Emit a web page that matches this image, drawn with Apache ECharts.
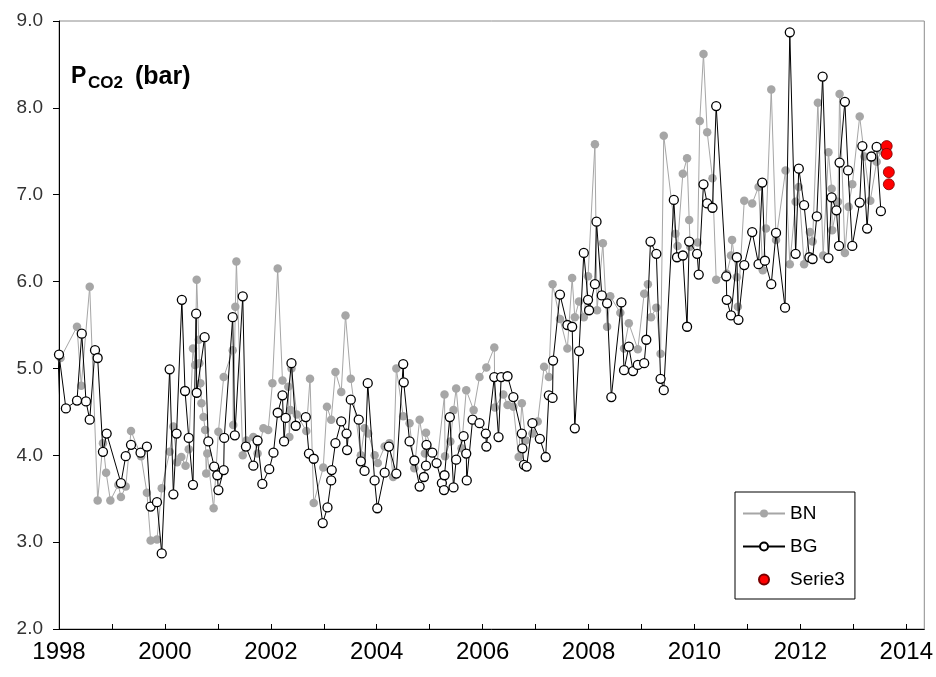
<!DOCTYPE html>
<html>
<head>
<meta charset="utf-8">
<script src="https://cdn.jsdelivr.net/npm/echarts@6/dist/echarts.min.js"></script>
<style>html,body{margin:0;padding:0;background:#fff;overflow:hidden}#c{width:936px;height:677px}</style>
</head>
<body>
<div id="c"></div>
<script>
// ---- data (decimal years, bar) ----
const xTickLabels = ['1998','2000','2002','2004','2006','2008','2010','2012','2014'];
const yTickLabels = ['2.0','3.0','4.0','5.0','6.0','7.0','8.0','9.0'];

const bnYear = [1998.03,1998.34,1998.42,1998.58,1998.73,1998.83,1998.89,1998.97,1999.12,1999.17,1999.26,1999.36,1999.55,1999.66,1999.73,1999.85,1999.94,
2000.09,2000.16,2000.23,2000.31,2000.39,2000.45,2000.53,2000.57,2000.60,2000.64,2000.65,2000.67,2000.69,2000.73,2000.76,2000.78,2000.80,2000.92,
2001.01,2001.11,2001.28,2001.29,2001.33,2001.35,2001.47,2001.54,2001.67,2001.75,2001.86,2001.95,
2002.03,2002.13,2002.22,2002.33,2002.35,2002.37,2002.39,2002.49,2002.67,2002.74,2002.81,2002.99,
2003.06,2003.14,2003.22,2003.33,2003.41,2003.51,2003.70,2003.77,2003.84,2003.96,
2004.02,2004.15,2004.24,2004.31,2004.37,2004.50,2004.62,2004.71,2004.81,2004.91,2004.93,
2005.14,2005.28,2005.29,2005.39,2005.45,2005.50,2005.60,2005.69,2005.83,2005.94,
2006.07,2006.22,2006.23,2006.39,2006.47,2006.58,2006.68,2006.74,2006.81,2006.94,
2007.04,2007.16,2007.25,2007.32,2007.46,2007.60,2007.69,2007.74,2007.82,2007.91,2007.99,
2008.12,2008.16,2008.27,2008.35,2008.41,2008.60,2008.67,2008.76,2008.93,
2009.05,2009.12,2009.18,2009.28,2009.36,2009.42,2009.64,2009.68,2009.78,2009.86,2009.90,2009.92,
2010.06,2010.10,2010.17,2010.24,2010.34,2010.41,2010.61,2010.69,2010.71,2010.80,2010.82,2010.94,
2011.09,2011.21,2011.29,2011.35,2011.45,2011.54,2011.72,2011.80,2011.91,2011.97,
2012.07,2012.18,2012.23,2012.33,2012.43,2012.53,2012.59,2012.60,2012.71,2012.74,2012.84,2012.91,2012.98,
2013.12,2013.21,2013.32,2013.44,2013.53];
const bnValue = [5.12,5.48,4.80,5.94,3.48,4.14,3.80,3.48,3.66,3.52,3.64,4.28,3.99,3.57,3.02,3.03,3.62,
4.04,4.33,3.92,3.98,3.88,4.07,5.23,5.04,6.02,5.33,5.06,4.83,4.60,4.44,4.29,3.79,4.02,3.39,
4.27,4.90,5.21,4.35,5.71,6.23,4.00,4.17,4.21,4.02,4.31,4.29,
4.83,6.15,4.86,4.79,4.21,4.52,5.00,4.47,4.28,4.88,3.45,3.86,
4.56,4.41,4.96,4.73,5.61,4.88,4.00,4.31,4.25,4.00,
3.91,4.10,4.14,3.75,5.00,4.45,4.37,3.85,4.41,4.02,4.26,
3.91,4.70,3.99,4.16,4.52,4.77,4.08,4.75,4.52,4.90,
5.01,5.24,4.55,4.70,4.58,4.56,3.98,4.60,4.17,4.25,
4.39,5.02,4.90,5.97,5.57,5.23,6.04,5.59,5.77,5.59,6.06,
7.58,5.67,6.44,5.48,5.83,5.64,5.23,5.52,5.22,
5.86,5.97,5.59,5.70,5.17,7.68,6.55,6.41,7.24,7.42,6.71,6.40,
6.45,7.85,8.62,7.72,7.19,6.02,6.09,6.30,6.48,6.05,5.71,6.93,
6.90,7.09,6.13,6.61,8.21,6.48,7.28,6.20,6.92,7.09,
6.20,6.57,6.46,8.06,6.30,7.49,7.07,6.59,6.92,8.16,6.33,6.86,7.12,
7.90,7.44,6.93,7.38,7.51];

const bgYear = [1997.94,1998.00,1998.13,1998.34,1998.43,1998.51,1998.58,1998.68,1998.73,1998.83,1998.90,1999.17,1999.26,1999.36,1999.54,1999.66,1999.73,1999.85,1999.94,
2000.09,2000.16,2000.22,2000.32,2000.38,2000.45,2000.53,2000.59,2000.60,2000.75,2000.82,2000.93,2000.99,
2001.01,2001.11,2001.12,2001.28,2001.32,2001.47,2001.53,2001.67,2001.75,2001.84,2001.97,
2002.05,2002.13,2002.22,2002.25,2002.28,2002.39,2002.47,2002.66,2002.72,2002.81,2002.98,
2003.07,2003.14,2003.15,2003.22,2003.33,2003.43,2003.44,2003.51,2003.66,2003.70,2003.77,2003.83,2003.96,
2004.01,2004.15,2004.23,2004.37,2004.50,2004.51,2004.62,2004.71,2004.81,2004.89,2004.93,2004.94,
2005.05,2005.13,2005.23,2005.27,2005.28,2005.38,2005.45,2005.50,2005.64,2005.69,2005.70,2005.81,2005.94,
2006.06,2006.07,2006.22,2006.30,2006.35,2006.47,2006.58,2006.74,2006.75,2006.78,2006.83,2006.94,
2007.08,2007.19,2007.25,2007.32,2007.33,2007.46,2007.60,2007.69,2007.74,2007.82,2007.91,2007.99,
2008.01,2008.12,2008.15,2008.25,2008.35,2008.43,2008.62,2008.67,2008.76,2008.84,2008.93,
2009.05,2009.09,2009.17,2009.28,2009.36,2009.42,2009.61,2009.67,2009.78,2009.86,2009.90,
2010.05,2010.08,2010.17,2010.24,2010.34,2010.41,2010.60,2010.61,2010.69,2010.80,2010.83,2010.94,
2011.09,2011.21,2011.28,2011.33,2011.45,2011.54,2011.71,2011.80,2011.91,2011.97,
2012.07,2012.17,2012.23,2012.31,2012.42,2012.53,2012.59,2012.68,2012.73,2012.74,2012.84,2012.90,2012.98,
2013.12,2013.17,2013.26,2013.34,2013.44,2013.52];
const bgValue = [4.17,5.16,4.54,4.63,5.40,4.62,4.41,5.21,5.12,4.04,4.25,3.68,3.99,4.12,4.03,4.10,3.41,3.46,2.87,
4.99,3.55,4.25,5.79,4.74,4.20,3.66,5.63,4.72,5.36,4.16,3.87,3.77,
3.60,3.83,4.20,5.59,4.23,5.83,4.10,3.88,4.17,3.67,3.84,
4.03,4.49,4.69,4.16,4.43,5.06,4.34,4.44,4.02,3.96,3.22,
3.40,3.71,3.83,4.14,4.39,4.25,4.06,4.64,4.41,3.93,3.82,4.83,3.71,
3.39,3.80,4.10,3.79,5.05,4.84,4.16,3.94,3.64,3.75,3.88,4.12,
4.03,3.91,3.68,3.60,3.77,4.44,3.63,3.95,4.22,4.02,3.71,4.41,4.37,
4.25,4.10,4.90,4.21,4.90,4.91,4.67,4.25,4.08,3.89,3.87,4.37,
4.19,3.98,4.69,4.66,5.09,5.85,5.50,5.48,4.31,5.20,6.33,5.79,
5.67,5.97,6.69,5.84,5.75,4.67,5.76,4.98,5.25,4.97,5.04,
5.06,5.33,6.46,6.32,4.88,4.75,6.94,6.28,6.30,5.48,6.46,
6.32,6.08,7.12,6.90,6.85,8.02,6.06,5.79,5.61,6.28,5.56,6.19,
6.57,6.20,7.14,6.24,5.97,6.56,5.70,8.87,6.32,7.30,
6.88,6.28,6.26,6.75,8.36,6.27,6.97,6.82,6.41,7.37,8.07,7.28,6.41,
6.91,7.56,6.61,7.44,7.55,6.81];

const s3Year = [2013.63,2013.63,2013.67,2013.67];
const s3Value = [7.56,7.47,7.26,7.12];

const pair = (xs, ys) => xs.map((x, i) => [x, ys[i]]);

const chart = echarts.init(document.getElementById('c'), null, {renderer: 'canvas'});
const FONT = 'Liberation Sans, Arial, sans-serif';
chart.setOption({
  animation: false,
  backgroundColor: '#fff',
  grid: {left: 59, right: 8, top: 21, bottom: 48, show: true, borderColor: '#8c8c8c', borderWidth: 1, backgroundColor: 'transparent'},
  xAxis: {
    type: 'value', min: 1998, max: 2014.34, interval: 1,
    axisLine: {show: true, lineStyle: {color: '#000', width: 1}},
    axisTick: {show: true, inside: true, length: 5, lineStyle: {color: '#000'}},
    splitLine: {show: false},
    axisLabel: {
      margin: 11, color: '#000', fontSize: 24, fontFamily: FONT,
      showMaxLabel: false,
      formatter: v => { const s = String(Math.round(v)); return (Math.abs(v - Math.round(v)) < 1e-6 && xTickLabels.includes(s)) ? s : ''; }
    }
  },
  yAxis: {
    type: 'value', min: 2, max: 9, interval: 1,
    axisLine: {show: true, lineStyle: {color: '#000', width: 1}},
    axisTick: {show: true, inside: false, length: 6, lineStyle: {color: '#000'}},
    splitLine: {show: false},
    axisLabel: {
      margin: 16, color: '#333', fontSize: 19, fontFamily: FONT,
      formatter: v => yTickLabels[Math.round(v) - 2]
    }
  },
  legend: {
    orient: 'vertical', left: 735, top: 492, width: 123,
    padding: [12, 10, 10, 7], itemGap: 14, itemWidth: 42, itemHeight: 10,
    borderColor: '#000', borderWidth: 1, backgroundColor: '#fff',
    textStyle: {fontSize: 19, fontFamily: FONT, color: '#000'},
    data: ['BN', 'BG', 'Serie3']
  },
  graphic: [
    {type: 'text', left: 71, top: 65, style: {text: 'P', font: 'bold 23px ' + FONT, fill: '#000'}},
    {type: 'text', left: 88, top: 75, style: {text: 'CO2', font: 'bold 17px ' + FONT, fill: '#000'}},
    {type: 'text', left: 135, top: 65, style: {text: '(bar)', font: 'bold 25px ' + FONT, fill: '#000'}}
  ],
  series: [
    {
      name: 'BN', type: 'line', data: pair(bnYear, bnValue),
      symbol: 'circle', symbolSize: 8.5, showAllSymbol: true,
      lineStyle: {color: '#a6a6a6', width: 1},
      itemStyle: {color: '#a6a6a6', borderColor: '#a6a6a6', borderWidth: 0},
      emphasis: {disabled: true}, z: 2
    },
    {
      name: 'BG', type: 'line', data: pair(bgYear, bgValue),
      symbol: 'circle', symbolSize: 9, showAllSymbol: true,
      lineStyle: {color: '#000', width: 1},
      itemStyle: {color: '#fff', borderColor: '#000', borderWidth: 1.3},
      emphasis: {disabled: true}, z: 3
    },
    {
      name: 'Serie3', type: 'scatter', data: pair(s3Year, s3Value),
      symbol: 'circle', symbolSize: 11,
      itemStyle: {color: '#ff0000', borderColor: '#7a0000', borderWidth: 0.8, opacity: 1},
      emphasis: {disabled: true}, z: 4
    }
  ]
});
</script>
</body>
</html>
